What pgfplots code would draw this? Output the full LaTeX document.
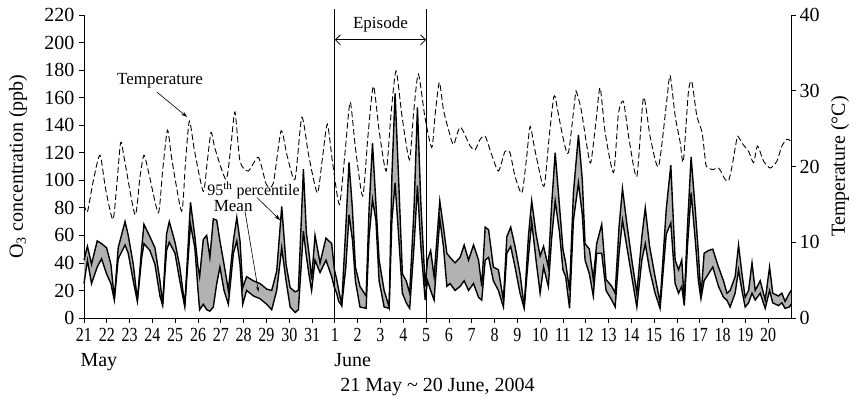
\documentclass[border=0pt]{standalone}
\usepackage{fontspec}
\setmainfont{Liberation Serif}
\usepackage{graphicx}
\usepackage{pgfplots}
\usepackage{pgfplotstable}
\pgfplotsset{compat=1.18}
\usepgfplotslibrary{fillbetween}
\usetikzlibrary{arrows.meta}
\newcommand{\xl}[1]{\scalebox{0.8}[1]{#1}}
\newcommand{\fs}[1]{\fontsize{#1}{#1}\selectfont}

\pgfplotstableread{
d up lo
0.00 42 25
0.15 52 42
0.33 39 25
0.58 56 37
0.77 54 43
0.99 51 32
1.18 39 25
1.33 14 13
1.50 51 43
1.80 70 53
1.94 60 47
2.16 39 27
2.34 13 12
2.53 51 44
2.63 68 54
2.89 59 49
3.11 51 39
3.33 27 16
3.45 10 9
3.62 61 49
3.74 70 55
3.99 55 47
4.20 37 27
4.42 9 8
4.67 84 68
4.86 59 51
5.00 37 20
5.07 30 6
5.23 57 10
5.38 60 6
5.52 44 5
5.67 72 8
5.82 71 25
5.96 56 37
6.14 39 20
6.33 20 10
6.55 56 47
6.70 73 56
6.84 56 39
6.96 22 10
7.13 30 20
7.43 27 16
7.72 25 14
8.01 21 10
8.23 20 6
8.45 34 20
8.67 81 51
8.86 39 27
9.04 22 8
9.26 19 4
9.40 20 6
9.62 108 63
9.75 62 45
9.88 45 30
9.98 28 20
10.13 60 42
10.35 40 33
10.61 58 42
10.86 54 30
10.98 35 22
11.08 28 18
11.17 20 12
11.30 10 9
11.48 66 37
11.62 113 75
11.77 79 57
11.90 37 27
12.10 23 8
12.37 16 7
12.50 79 59
12.65 127 86
12.80 83 71
12.94 42 27
13.16 20 8
13.38 8 7
13.50 103 71
13.64 163 98
13.79 103 61
13.96 32 18
14.13 27 11
14.28 18 7
14.47 79 52
14.62 153 96
14.77 83 52
14.96 23 13
15.06 42 27
15.20 49 20
15.35 30 13
15.60 85 72
15.76 66 52
15.91 47 23
16.05 44 25
16.27 40 20
16.49 44 23
16.67 53 27
16.86 42 20
17.08 53 25
17.30 42 15
17.44 23 13
17.59 66 42
17.74 64 44
17.95 37 27
18.17 35 20
18.39 13 8
18.54 59 47
18.71 66 52
18.90 52 37
19.12 32 18
19.30 8 7
19.49 60 45
19.63 85 70
19.82 61 42
20.00 45 18
20.15 52 37
20.36 37 23
20.50 81 57
20.66 120 85
20.85 81 62
21.00 50 35
21.12 40 30
21.29 20 7
21.46 91 71
21.68 133 98
21.85 100 75
21.97 54 42
22.16 50 32
22.33 28 16
22.48 54 47
22.70 68 47
22.89 28 20
23.14 23 13
23.29 18 8
23.46 66 47
23.61 94 71
23.80 69 52
24.02 42 30
24.24 18 8
24.46 59 42
24.61 80 54
24.80 52 35
25.04 30 18
25.26 11 7
25.53 79 61
25.73 111 69
25.92 42 25
26.07 35 18
26.21 42 23
26.32 13 9
26.46 66 52
26.62 117 91
26.80 79 57
26.94 47 27
27.05 15 14
27.19 47 27
27.38 49 32
27.57 50 37
27.82 37 23
28.04 27 15
28.19 18 13
28.33 20 8
28.55 30 18
28.70 53 35
28.85 32 20
28.99 15 8
29.14 20 11
29.29 40 18
29.43 20 13
29.65 27 18
29.87 13 7
30.06 37 20
30.20 18 11
30.45 16 9
30.60 18 11
30.74 12 7
30.93 18 8
31.00 20 10
}\ozone

\pgfplotstableread{
d T
0.00 15.0
0.15 14.0
0.40 18.0
0.70 21.5
0.95 17.0
1.27 13.0
1.45 18.0
1.61 23.2
1.80 20.5
2.24 13.6
2.45 18.5
2.63 21.5
2.85 19.0
3.26 13.9
3.45 19.5
3.66 24.8
3.85 21.0
4.28 14.1
4.45 20.5
4.62 26.0
4.85 22.0
5.23 16.7
5.40 20.5
5.57 24.5
5.75 22.3
6.23 18.3
6.45 23.0
6.62 27.2
6.84 20.7
7.20 19.4
7.65 21.2
8.00 17.6
8.30 17.8
8.64 24.7
8.90 21.5
9.25 18.3
9.55 26.5
9.85 21.5
10.23 16.5
10.45 21.0
10.67 25.6
10.90 20.5
11.20 15.0
11.45 22.0
11.67 28.5
11.90 22.5
12.22 16.1
12.45 24.0
12.69 30.6
12.95 24.5
13.25 19.4
13.45 26.5
13.68 32.6
13.95 26.5
14.27 20.9
14.45 27.0
14.66 32.2
14.95 26.5
15.25 22.5
15.40 27.0
15.58 31.1
15.76 27.5
15.98 24.9
16.20 22.9
16.50 25.2
16.93 22.7
17.15 22.2
17.37 23.6
17.59 24.0
17.85 21.8
18.17 19.4
18.46 22.0
18.68 21.8
18.90 18.7
19.20 16.5
19.40 21.0
19.56 25.3
19.75 22.5
20.07 18.0
20.20 17.7
20.40 24.0
20.58 28.9
20.66 29.2
20.75 27.7
21.02 23.6
21.24 21.8
21.54 29.3
21.60 29.8
21.80 27.5
22.05 22.7
22.22 20.5
22.45 26.0
22.63 30.4
22.85 24.5
23.22 19.2
23.43 26.9
23.65 28.6
23.90 23.6
24.24 18.7
24.53 29.1
24.82 24.0
25.19 20.0
25.56 28.9
25.70 32.0
25.92 26.7
26.14 23.2
26.28 20.7
26.50 29.8
26.65 31.2
26.87 26.7
27.10 24.5
27.24 20.9
27.29 20.0
27.55 19.6
27.82 19.8
27.95 19.2
28.11 18.3
28.26 18.1
28.40 19.8
28.62 23.6
28.67 24.0
28.90 22.9
29.14 22.0
29.36 20.5
29.53 22.7
29.80 20.7
30.09 19.8
30.38 20.7
30.60 22.7
30.82 23.6
30.97 23.4
}\temp

\begin{document}
\begin{tikzpicture}
\begin{axis}[
  scale only axis, width=707pt, height=303pt,
  xmin=0, xmax=31, ymin=0, ymax=220,
  axis x line*=bottom, axis y line*=left,
  axis line style={line width=0.8pt},
  tick align=outside, major tick length=5pt,
  every tick/.style={black, line width=0.8pt},
  xtick={0,...,30},
  xticklabels={\xl{21},\xl{22},\xl{23},\xl{24},\xl{25},\xl{26},\xl{27},\xl{28},\xl{29},\xl{30},\xl{31},\xl{1},\xl{2},\xl{3},\xl{4},\xl{5},\xl{6},\xl{7},\xl{8},\xl{9},\xl{10},\xl{11},\xl{12},\xl{13},\xl{14},\xl{15},\xl{16},\xl{17},\xl{18},\xl{19},\xl{20}},
  ytick={0,20,...,220},
  /pgf/number format/assume math mode=true,
  ticklabel style={font=\fs{20}},
  xticklabel style={yshift=-2pt},
  yticklabel style={xshift=-1pt},
  label style={font=\fs{20}},
  ylabel={O\textsubscript{3} concentration (ppb)},
  ylabel style={at={(axis description cs:-0.0934,0.5)}, anchor=center},
  xlabel={21 May \textasciitilde\ 20 June, 2004},
  xlabel style={at={(axis description cs:0.5,0)}, anchor=base, yshift=-73pt},
  clip=false,
]
\addplot[name path=up, black, line width=1.4pt] table[x=d, y=up] {\ozone};
\addplot[name path=lo, black, line width=1.4pt] table[x=d, y=lo] {\ozone};
\addplot[black!30] fill between[of=up and lo];

\node[font=\fs{20}, anchor=base west] at (axis cs:0,0) [xshift=-7pt, yshift=-48pt] {May};
\node[font=\fs{20}, anchor=base west] at (axis cs:11,0) [xshift=-4pt, yshift=-48pt] {June};

\draw[line width=0.8pt] (axis cs:11,0) -- (axis cs:11,224);
\draw[line width=0.8pt] (axis cs:15,0) -- (axis cs:15,224);
\draw[line width=0.8pt, {Straight Barb[length=5pt]}-{Straight Barb[length=5pt]}] (axis cs:11,202) -- (axis cs:15,202);
\node[font=\fs{17}] at (axis cs:13,213.5) {Episode};

\node[font=\fs{17}] at (axis cs:3.33,172.6) {Temperature};
\draw[line width=0.6pt, -{Stealth[length=6pt, width=4pt]}] (axis cs:3.2,164) -- (axis cs:4.52,146);
\node[font=\fs{16}] at (axis cs:7.43,92.5) {95\textsuperscript{th} percentile};
\node[font=\fs{17}] at (axis cs:6.54,81.2) {Mean};
\draw[line width=0.6pt, -{Stealth[length=6pt, width=4pt]}] (axis cs:7.59,87.4) -- (axis cs:8.6,71);
\draw[line width=0.6pt, -{Stealth[length=5pt, width=3pt]}] (axis cs:7.06,77.4) -- (axis cs:7.65,19);
\end{axis}

\begin{axis}[
  scale only axis, width=707pt, height=303pt,
  xmin=0, xmax=31, ymin=0, ymax=40,
  axis x line=none, axis y line*=right,
  axis line style={line width=0.8pt},
  tick align=outside, major tick length=5pt,
  every tick/.style={black, line width=0.8pt},
  ytick={0,10,...,40},
  /pgf/number format/assume math mode=true,
  ticklabel style={font=\fs{20}},
  label style={font=\fs{20}},
  ylabel={Temperature (°C)},
  ylabel style={at={(axis description cs:1.0693,0.5)}, anchor=center},
]
\addplot[black, line width=0.9pt, dash pattern=on 6pt off 3pt, smooth, tension=0.4] table[x=d, y=T] {\temp};
\end{axis}
\pgfresetboundingbox
\path[use as bounding box] (-84pt,-81pt) rectangle (772pt,318pt);
\end{tikzpicture}
\end{document}
